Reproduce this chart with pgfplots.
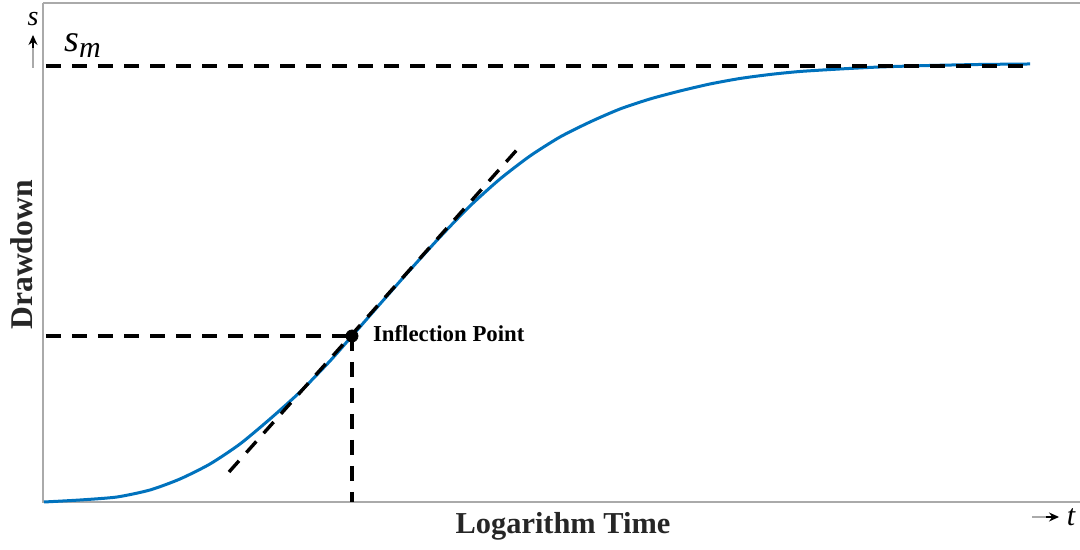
\documentclass[border=0pt]{standalone}
\usepackage{fontspec}
\setmainfont{Liberation Serif}
\usepackage{pgfplots}
\pgfplotsset{compat=1.18}
\usetikzlibrary{arrows.meta}
\definecolor{curveblue}{RGB}{0,114,189}
\definecolor{spine}{RGB}{170,170,170}
\begin{document}
\begin{tikzpicture}
\path[use as bounding box] (0,0) rectangle (540pt,275pt);
\begin{axis}[
  at={(21.5pt,24pt)}, anchor=south west,
  scale only axis, width=518.5pt, height=249.5pt,
  xmin=43, xmax=1080, ymin=0, ymax=499,
  axis line style={draw=none},
  xtick=\empty, ytick=\empty,
  clip=false,
]
% spines (left, bottom, top)
\draw[spine, line width=0.8pt] (rel axis cs:0,1) -- (rel axis cs:0,0) -- (rel axis cs:1,0);
\draw[spine, line width=0.8pt] (rel axis cs:0,1) -- (rel axis cs:1,1);
% S-curve (y = drawdown, pixel units)
\addplot[curveblue, line width=1.5pt, smooth, tension=0.4] coordinates {
(44,0) (80,2) (117,5) (150,12) (180,23) (210,38) (240,58) (270,83)
(300,110) (330,141) (352,166) (380,198) (410,232) (440,265) (470,296)
(500,323) (530,346) (560,365) (590,380) (620,393) (650,403) (680,411)
(710,418) (740,423.5) (770,427.5) (800,430.5) (840,433) (880,435)
(930,436.5) (980,437.5) (1030,438)
};
% dashed guides
\addplot[black, line width=1.7pt, dash pattern=on 7.5pt off 5.5pt] coordinates {(46,436) (1030,436)};
\addplot[black, line width=1.7pt, dash pattern=on 7.5pt off 5.5pt] coordinates {(46,166) (352,166)};
\addplot[black, line width=1.7pt, dash pattern=on 7.5pt off 5.5pt] coordinates {(352,166) (352,0)};
\addplot[black, line width=1.7pt, dash pattern=on 7.5pt off 5.5pt] coordinates {(229,30) (523,359)};
% inflection point
\addplot[only marks, mark=*, mark size=3pt, black] coordinates {(352,166)};
\node[anchor=west, font=\fontsize{11.4}{13}\selectfont\bfseries] at (axis cs:366,168) {Inflection Point};
\end{axis}
% labels
\node[font=\fontsize{15.2}{18}\selectfont\bfseries, text=black!85] at (281.5pt,12pt) {Logarithm Time};
\node[font=\fontsize{15.8}{18}\selectfont\bfseries, text=black!85, rotate=90] at (11pt,147.5pt) {Drawdown};
% s axis marker
\node[font=\fontsize{14}{16}\selectfont\itshape] at (16.5pt,265.5pt) {s};
\draw[spine, line width=0.6pt] (16.5pt,241pt) -- (16.5pt,253pt);
\draw[black, line width=0.6pt, -{Stealth[length=5pt,width=4.5pt]}] (16.5pt,251pt) -- (16.5pt,257.5pt);
\node[anchor=west, font=\fontsize{19}{22}\selectfont\itshape, inner sep=0pt] at (32pt,252pt) {s\raisebox{-3pt}{\fontsize{15}{17}\selectfont m}};
% t axis marker
\draw[spine, line width=0.6pt] (516pt,16.5pt) -- (525pt,16.5pt);
\draw[black, line width=0.6pt, -{Stealth[length=5pt,width=4.5pt]}] (523pt,16.5pt) -- (529.5pt,16.5pt);
\node[font=\fontsize{15}{17}\selectfont\itshape] at (535.5pt,16.5pt) {t};
\end{tikzpicture}
\end{document}
